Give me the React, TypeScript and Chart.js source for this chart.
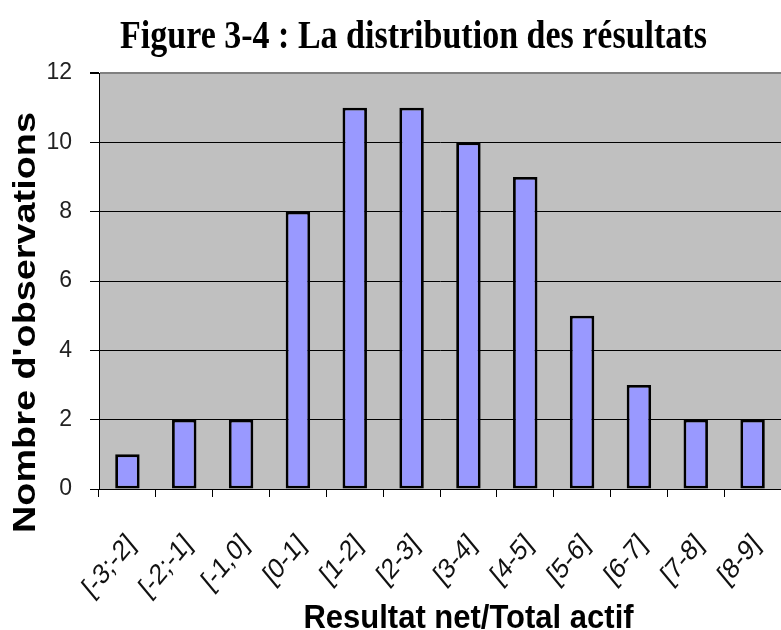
import { useEffect, useRef } from "react";
import { Chart, registerables } from "chart.js";

Chart.register(...registerables);

const categories = ["[-3;-2]", "[-2;-1]", "[-1,0]", "[0-1]", "[1-2]", "[2-3]", "[3-4]", "[4-5]", "[5-6]", "[6-7]", "[7-8]", "[8-9]"];
const counts = [1, 2, 2, 8, 11, 11, 10, 9, 5, 3, 2, 2];
const yMin = 0;
const yMax = 12;
const yStep = 2;
const chartTitle = "Figure 3-4 : La distribution des résultats";
const xTitle = "Resultat net/Total actif";
const yTitle = "Nombre d'observations";

const plotBg = {
  id: "plotBg",
  beforeDraw(chart: any) {
    const { ctx, chartArea: a } = chart;
    ctx.save();
    ctx.fillStyle = "#C0C0C0";
    ctx.fillRect(a.left, a.top, a.right - a.left, a.bottom - a.top);
    ctx.restore();
  },
};

const texts = {
  id: "texts",
  afterDraw(chart: any) {
    const { ctx } = chart;
    ctx.save();
    ctx.fillStyle = "#000";
    ctx.textBaseline = "alphabetic";
    ctx.textAlign = "center";

    // main title
    ctx.save();
    ctx.translate(413.5, 48);
    ctx.scale(1, 1.15);
    ctx.font = "bold 34px 'Liberation Serif'";
    ctx.fillText(chartTitle, 0, 0);
    ctx.restore();

    // x title
    ctx.save();
    ctx.translate(468.5, 628);
    ctx.scale(1, 1.08);
    ctx.font = "bold 31px 'Liberation Sans'";
    ctx.fillText(xTitle, 0, 0);
    ctx.restore();

    // y title
    ctx.save();
    ctx.translate(35, 322.5);
    ctx.rotate(-Math.PI / 2);
    ctx.scale(1.22, 1);
    ctx.font = "bold 31px 'Liberation Sans'";
    ctx.fillText(yTitle, 0, 0);
    ctx.restore();

    // x category labels, placed through the x scale
    const xs = chart.scales.x;
    const labelY = chart.chartArea.bottom + 51;
    ctx.fillStyle = "#111";
    ctx.font = "24px 'Liberation Sans'";
    ctx.textAlign = "right";
    ctx.textBaseline = "middle";
    categories.forEach((lab, i) => {
      const x = xs.getPixelForValue(i) + 4;
      ctx.save();
      ctx.translate(x, labelY);
      ctx.scale(1, 1.2);
      ctx.rotate(-Math.PI / 4);
      ctx.fillText(lab, 0, 0);
      ctx.restore();
    });

    ctx.restore();
  },
};

export default function App() {
  const ref = useRef<HTMLCanvasElement | null>(null);

  useEffect(() => {
    document.body.style.margin = "0";
    const canvas = ref.current;
    if (!canvas) return;
    const chart = new Chart(canvas, {
      type: "bar",
      data: {
        labels: categories,
        datasets: [
          {
            data: counts,
            backgroundColor: "#9999FF",
            borderColor: "#000000",
            borderWidth: 2.8,
            borderSkipped: false,
            barPercentage: 0.43,
            categoryPercentage: 1,
          },
        ],
      },
      options: {
        animation: false,
        responsive: true,
        maintainAspectRatio: false,
        devicePixelRatio: 1,
        layout: { padding: { top: 73, left: 0, right: 0, bottom: 0 } },
        plugins: {
          legend: { display: false },
          title: { display: false },
          tooltip: { enabled: false },
        },
        scales: {
          x: {
            type: "category",
            offset: true,
            grid: {
              offset: true,
              drawOnChartArea: false,
              drawTicks: true,
              tickLength: 8,
              color: "#000",
              tickColor: "#000",
            },
            border: { display: true, color: "#000", width: 1 },
            ticks: {
              display: false,
              autoSkip: false,
            },
            afterFit(scale: any) {
              scale.height = 141;
              scale.paddingLeft = 0;
              scale.paddingRight = 0;
            },
          },
          y: {
            min: yMin,
            max: yMax,
            ticks: {
              stepSize: yStep,
              padding: 18,
              color: "#222",
              font: { family: "'Liberation Sans'", size: 23 },
            },
            grid: {
              color: (c: any) => (c.tick && c.tick.value === yMax ? "#808080" : "#000"),
              lineWidth: (c: any) => (c.tick && c.tick.value === yMax ? 2 : 1),
              tickColor: "#000",
              tickLength: 9,
            },
            border: { display: true, color: "#000", width: 1 },
            afterFit(scale: any) {
              scale.width = 99;
            },
          },
        },
      },
      plugins: [plotBg, texts],
    });
    return () => chart.destroy();
  }, []);

  return (
    <div style={{ position: "fixed", left: 0, top: 0, width: 781, height: 630, background: "#fff" }}>
      <canvas ref={ref} />
    </div>
  );
}
